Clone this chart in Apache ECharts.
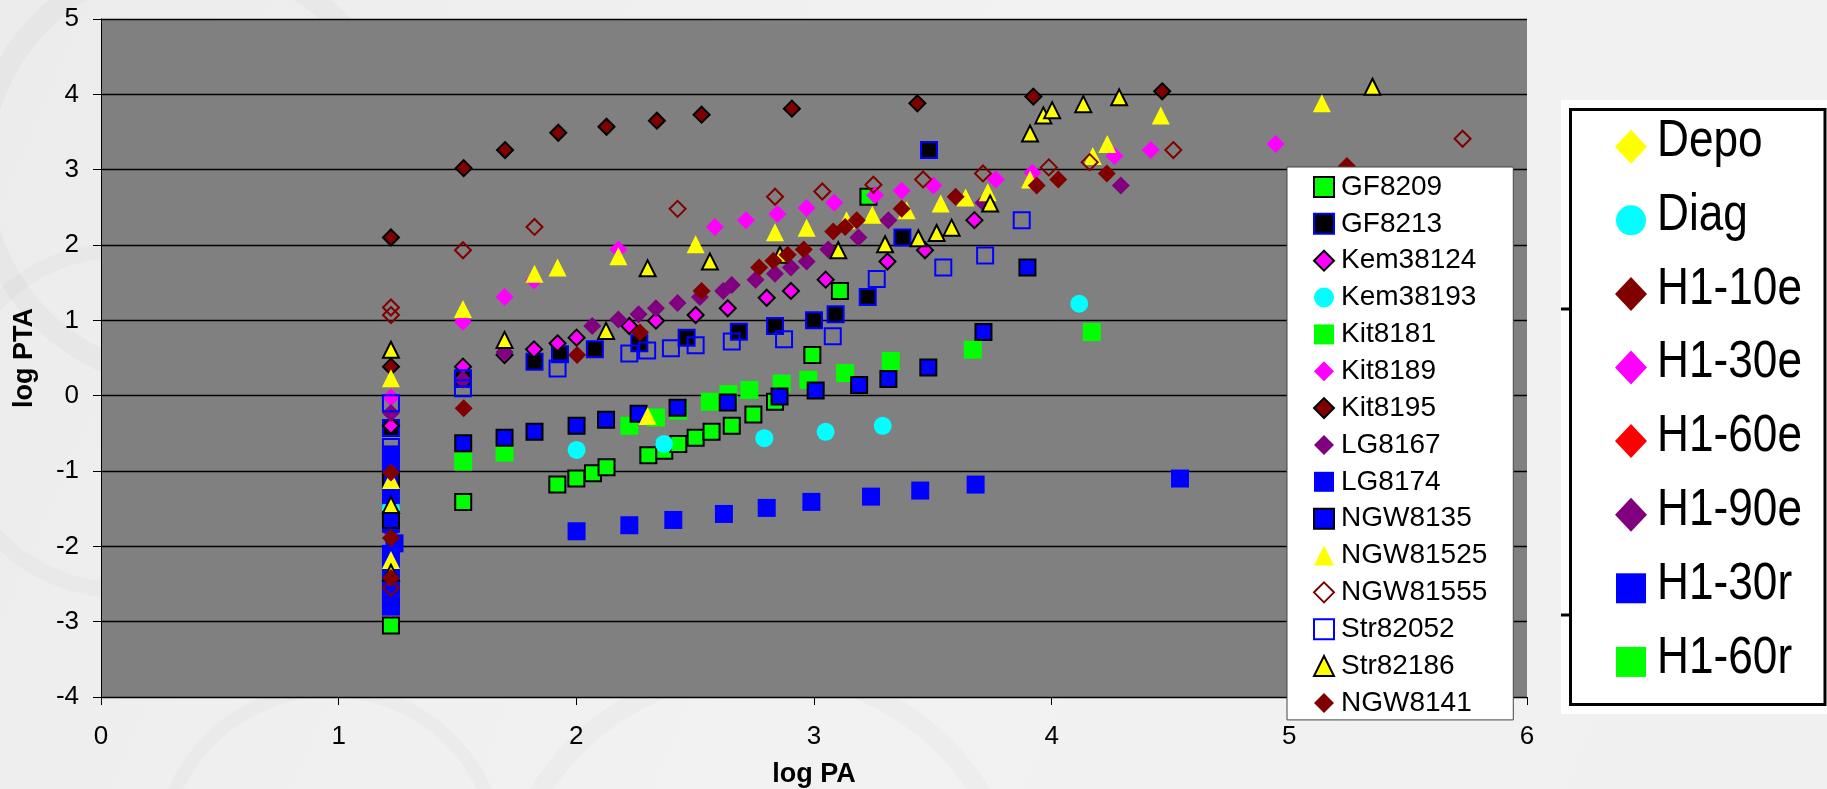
<!DOCTYPE html>
<html>
<head>
<meta charset="utf-8">
<script src="https://cdn.jsdelivr.net/npm/echarts@6/dist/echarts.min.js"></script>
<style>
  html, body { margin: 0; padding: 0; background: #efefef; }
  #chart { width: 1827px; height: 789px; }
</style>
</head>
<body>
<div id="chart"></div>
<script>
// ---- axis ranges ----
const xRange = [0, 6];
const yRange = [-4, 5];

// ---- series: [log PA, log PTA] ----
const GF8209 = [[1.22,-3.05],[1.524,-1.41],[1.92,-1.18],[2.0,-1.10],[2.07,-1.03],[2.127,-0.95],[2.303,-0.79],[2.37,-0.73],[2.429,-0.64],[2.502,-0.56],[2.569,-0.48],[2.654,-0.40],[2.745,-0.25],[2.836,-0.08],[2.993,0.54],[3.109,1.39],[3.229,2.64]];
const GF8213 = [[1.22,-0.43],[1.523,0.22],[1.824,0.45],[1.931,0.55],[2.078,0.615],[2.265,0.695],[2.464,0.77],[2.684,0.85],[2.836,0.925],[3.0,1.0],[3.091,1.08],[3.226,1.31],[3.372,2.10],[3.484,3.26]];
const Kem38124 = [[1.22,-0.40],[1.523,0.385],[1.698,0.54],[1.822,0.615],[1.921,0.695],[2.001,0.77],[2.223,0.925],[2.335,0.995],[2.502,1.07],[2.637,1.16],[2.801,1.30],[2.903,1.39],[3.049,1.54],[3.309,1.78],[3.467,1.93],[3.675,2.33]];
const Kem38193 = [[1.22,-1.50],[2.001,-0.72],[2.369,-0.64],[2.791,-0.565],[3.049,-0.48],[3.289,-0.40],[4.116,1.22]];
const Kit8181 = [[1.22,-2.45],[1.524,-0.875],[1.698,-0.755],[2.223,-0.40],[2.335,-0.29],[2.429,-0.20],[2.562,-0.08],[2.64,0.02],[2.728,0.075],[2.864,0.16],[2.976,0.21],[3.131,0.30],[3.323,0.46],[3.668,0.61],[4.169,0.845]];
const Kit8189 = [[1.22,-0.02],[1.22,-2.82],[1.523,0.98],[1.698,1.31],[1.822,1.53],[2.177,1.94],[2.583,2.24],[2.714,2.33],[2.846,2.41],[2.969,2.49],[3.085,2.56],[3.257,2.66],[3.369,2.72],[3.502,2.79],[3.765,2.87],[3.919,2.96],[4.264,3.18],[4.417,3.26],[4.942,3.34]];
const Kit8195 = [[1.22,2.10],[1.22,0.385],[1.526,3.02],[1.70,3.26],[1.924,3.49],[2.127,3.57],[2.339,3.65],[2.527,3.73],[2.907,3.81],[3.435,3.88],[3.923,3.97],[4.465,4.04]];
const LG8167 = [[1.22,-0.23],[1.22,-1.80],[1.523,0.21],[1.698,0.58],[2.067,0.925],[2.177,1.01],[2.262,1.08],[2.335,1.16],[2.426,1.23],[2.52,1.31],[2.618,1.39],[2.654,1.47],[2.754,1.54],[2.836,1.62],[2.903,1.70],[2.969,1.78],[3.06,1.94],[3.187,2.10],[3.313,2.33],[3.713,2.56],[4.291,2.79]];
const LG8174 = [[1.22,-0.78],[1.22,-0.95],[1.22,-1.15],[1.22,-1.32],[1.22,-1.70],[1.235,-1.96],[1.22,-2.10],[1.22,-2.30],[1.22,-2.50],[1.22,-2.68],[1.22,-2.80],[2.001,-1.80],[2.223,-1.72],[2.408,-1.65],[2.621,-1.57],[2.801,-1.49],[2.989,-1.41],[3.24,-1.34],[3.447,-1.26],[3.68,-1.18],[4.54,-1.10]];
const NGW8135 = [[1.22,-1.12],[1.22,-1.65],[1.524,-0.63],[1.698,-0.56],[1.824,-0.48],[2.001,-0.40],[2.125,-0.32],[2.262,-0.24],[2.426,-0.16],[2.637,-0.09],[2.855,-0.01],[3.007,0.07],[3.19,0.14],[3.313,0.22],[3.481,0.375],[3.713,0.845],[3.898,1.70]];
const NGW81525 = [[1.22,0.23],[1.22,-1.12],[1.22,-2.18],[1.523,1.15],[1.824,1.62],[1.921,1.70],[2.177,1.85],[2.30,-0.27],[2.502,2.01],[2.836,2.17],[2.969,2.23],[3.137,2.33],[3.245,2.40],[3.39,2.46],[3.533,2.55],[3.638,2.63],[3.731,2.70],[3.909,2.87],[4.173,3.18],[4.234,3.34],[4.459,3.72],[5.137,3.88]];
const NGW81555 = [[1.22,1.17],[1.22,1.07],[1.22,-2.55],[1.523,1.93],[1.824,2.24],[2.426,2.48],[2.836,2.64],[3.035,2.71],[3.25,2.80],[3.459,2.87],[3.711,2.95],[3.988,3.03],[4.16,3.10],[4.512,3.26],[5.729,3.41]];
const Str82052 = [[1.22,-0.10],[1.22,-0.68],[1.523,0.23],[1.523,0.10],[1.921,0.36],[2.223,0.56],[2.298,0.60],[2.398,0.63],[2.502,0.67],[2.654,0.72],[2.874,0.75],[3.079,0.79],[3.264,1.55],[3.544,1.70],[3.72,1.86],[3.874,2.33]];
const Str82186 = [[1.22,0.61],[1.22,-1.45],[1.22,-2.35],[1.698,0.74],[2.125,0.86],[2.30,1.69],[2.562,1.78],[2.857,1.87],[3.102,1.93],[3.299,2.01],[3.439,2.09],[3.516,2.16],[3.579,2.23],[3.741,2.55],[3.909,3.48],[3.965,3.72],[4.002,3.79],[4.133,3.87],[4.284,3.96],[5.35,4.10]];
const NGW8141 = [[1.22,-1.02],[1.22,-1.89],[1.22,-2.42],[1.526,-0.167],[2.003,0.54],[2.268,0.84],[2.527,1.39],[2.769,1.70],[2.829,1.79],[2.889,1.87],[2.957,1.94],[3.081,2.18],[3.131,2.24],[3.18,2.33],[3.369,2.48],[3.596,2.64],[3.937,2.79],[4.028,2.87],[4.232,2.95],[5.242,3.05]];

const seriesNames = ['GF8209','GF8213','Kem38124','Kem38193','Kit8181','Kit8189','Kit8195','LG8167','LG8174','NGW8135','NGW81525','NGW81555','Str82052','Str82186','NGW8141'];
const seriesData = [GF8209,GF8213,Kem38124,Kem38193,Kit8181,Kit8189,Kit8195,LG8167,LG8174,NGW8135,NGW81525,NGW81555,Str82052,Str82186,NGW8141];

// marker look per series
const CLEAR = 'rgba(0,0,0,0)';
const markerStyles = {
  GF8209:   { symbol: 'rect',     fill: '#00ff00', stroke: '#000000' },
  GF8213:   { symbol: 'rect',     fill: '#000000', stroke: '#0000ff' },
  Kem38124: { symbol: 'diamond',  fill: '#ff00ff', stroke: '#000000' },
  Kem38193: { symbol: 'circle',   fill: '#00ffff', stroke: null },
  Kit8181:  { symbol: 'rect',     fill: '#00ff00', stroke: null },
  Kit8189:  { symbol: 'diamond',  fill: '#ff00ff', stroke: null },
  Kit8195:  { symbol: 'diamond',  fill: '#800000', stroke: '#000000' },
  LG8167:   { symbol: 'diamond',  fill: '#800080', stroke: null },
  LG8174:   { symbol: 'rect',     fill: '#0000ff', stroke: null },
  NGW8135:  { symbol: 'rect',     fill: '#0000ff', stroke: '#000000' },
  NGW81525: { symbol: 'triangle', fill: '#ffff00', stroke: null },
  NGW81555: { symbol: 'diamond',  fill: CLEAR,     stroke: '#800000' },
  Str82052: { symbol: 'rect',     fill: CLEAR,     stroke: '#0000ff' },
  Str82186: { symbol: 'triangle', fill: '#ffff00', stroke: '#000000' },
  NGW8141:  { symbol: 'diamond',  fill: '#800000', stroke: null }
};

// side key (groups)
const groupNames   = ['Depo','Diag','H1-10e','H1-30e','H1-60e','H1-90e','H1-30r','H1-60r'];
const groupColors  = ['#ffff00','#00ffff','#800000','#ff00ff','#ff0000','#800080','#0000ff','#00ff00'];
const groupSymbols = ['diamond','circle','diamond','diamond','diamond','diamond','square','square'];

const FONT = "'Liberation Sans', Arial, Helvetica, sans-serif";

const series = seriesNames.map((name, i) => {
  const st = markerStyles[name];
  const bordered = !!st.stroke;
  return {
    name,
    type: 'scatter',
    data: seriesData[i],
    symbol: st.symbol,
    symbolSize: bordered ? 16 : 18,
    itemStyle: {
      color: st.fill,
      borderColor: bordered ? st.stroke : st.fill,
      borderWidth: bordered ? 2 : 0,
      opacity: 1
    },
    emphasis: { disabled: true },
    z: 2
  };
});

// side key graphics
const keyGraphics = [];
keyGraphics.push({ type: 'rect', shape: { x: 1561, y: 100, width: 266, height: 614 }, style: { fill: '#ffffff' }, z: 50 });
keyGraphics.push({ type: 'rect', shape: { x: 1570.5, y: 109.5, width: 254.5, height: 595 }, style: { fill: '#ffffff', stroke: '#000000', lineWidth: 3 }, z: 51 });
[309, 615].forEach(y => {
  keyGraphics.push({ type: 'line', shape: { x1: 1561, y1: y, x2: 1570, y2: y }, style: { stroke: '#000000', lineWidth: 3 }, z: 51 });
});
groupNames.forEach((g, i) => {
  const cy = 146.7 + i * 73.6;
  const cx = 1631;
  const col = groupColors[i];
  let mk;
  if (groupSymbols[i] === 'diamond') {
    mk = { type: 'polygon', shape: { points: [[cx, cy - 17], [cx + 16, cy], [cx, cy + 17], [cx - 16, cy]] }, style: { fill: col } };
  } else if (groupSymbols[i] === 'circle') {
    mk = { type: 'circle', shape: { cx, cy, r: 15 }, style: { fill: col } };
  } else {
    mk = { type: 'rect', shape: { x: cx - 15, y: cy - 15, width: 30, height: 30 }, style: { fill: col } };
  }
  mk.z = 52;
  keyGraphics.push(mk);
  keyGraphics.push({
    type: 'text', x: 1657, y: 141.7 + i * 73.8, scaleX: 0.85, z: 52,
    style: { text: g, fill: '#000000', font: '52px ' + FONT, verticalAlign: 'middle', align: 'left' }
  });
});

// faint background swirls
const decor = [
  { type: 'circle', shape: { cx: 190, cy: 170, r: 210 }, style: { fill: 'none', stroke: 'rgba(0,0,0,0.025)', lineWidth: 22 }, z: -10 },
  { type: 'circle', shape: { cx: 120, cy: 420, r: 170 }, style: { fill: 'none', stroke: 'rgba(0,0,0,0.02)', lineWidth: 16 }, z: -10 },
  { type: 'circle', shape: { cx: 760, cy: 930, r: 260 }, style: { fill: 'none', stroke: 'rgba(0,0,0,0.02)', lineWidth: 20 }, z: -10 },
  { type: 'circle', shape: { cx: 330, cy: 860, r: 170 }, style: { fill: 'none', stroke: 'rgba(0,0,0,0.02)', lineWidth: 14 }, z: -10 }
];

const chart = echarts.init(document.getElementById('chart'), null, { renderer: 'canvas' });
chart.setOption({
  animation: false,
  backgroundColor: {
    type: 'linear', x: 0, y: 0, x2: 1, y2: 1,
    colorStops: [{ offset: 0, color: '#ececec' }, { offset: 0.5, color: '#f2f2f2' }, { offset: 1, color: '#f0f0f0' }]
  },
  textStyle: { fontFamily: FONT },
  grid: {
    left: 101, top: 19, width: 1426, height: 678,
    show: true, backgroundColor: '#808080', borderWidth: 0,
    containLabel: false, outerBoundsMode: 'none'
  },
  xAxis: {
    type: 'value', min: xRange[0], max: xRange[1], interval: 1,
    name: 'log PA', nameLocation: 'middle', nameGap: 64,
    nameTextStyle: { fontSize: 27, fontWeight: 'bold', color: '#000', fontFamily: FONT },
    axisLine: { show: true, onZero: false, lineStyle: { color: '#000', width: 1 } },
    axisTick: { show: true, inside: false, length: 8, lineStyle: { color: '#000' } },
    axisLabel: { fontSize: 26, color: '#000', margin: 27, fontFamily: FONT },
    splitLine: { show: false }
  },
  yAxis: {
    type: 'value', min: yRange[0], max: yRange[1], interval: 1,
    name: 'log PTA', nameLocation: 'middle', nameGap: 63, nameRotate: 90,
    nameTextStyle: { fontSize: 27, fontWeight: 'bold', color: '#000', fontFamily: FONT },
    axisLine: { show: true, onZero: false, lineStyle: { color: '#000', width: 1 } },
    axisTick: { show: true, inside: false, length: 8, lineStyle: { color: '#000' } },
    axisLabel: { fontSize: 26, color: '#000', margin: 22, fontFamily: FONT },
    splitLine: { show: true, lineStyle: { color: '#000', width: 1.3 } }
  },
  legend: {
    orient: 'vertical',
    left: 1287, top: 167,
    padding: [6, 26, 3, 26],
    itemWidth: 20, itemHeight: 20,
    itemGap: 8.85,
    backgroundColor: '#ffffff', borderColor: '#444', borderWidth: 1,
    selectedMode: true,
    textStyle: { fontSize: 28, lineHeight: 27, color: '#000', fontFamily: FONT, padding: [0, 0, 0, 2] },
    data: seriesNames,
    z: 20
  },
  graphic: { elements: decor.concat(keyGraphics) },
  series
});
</script>
</body>
</html>
